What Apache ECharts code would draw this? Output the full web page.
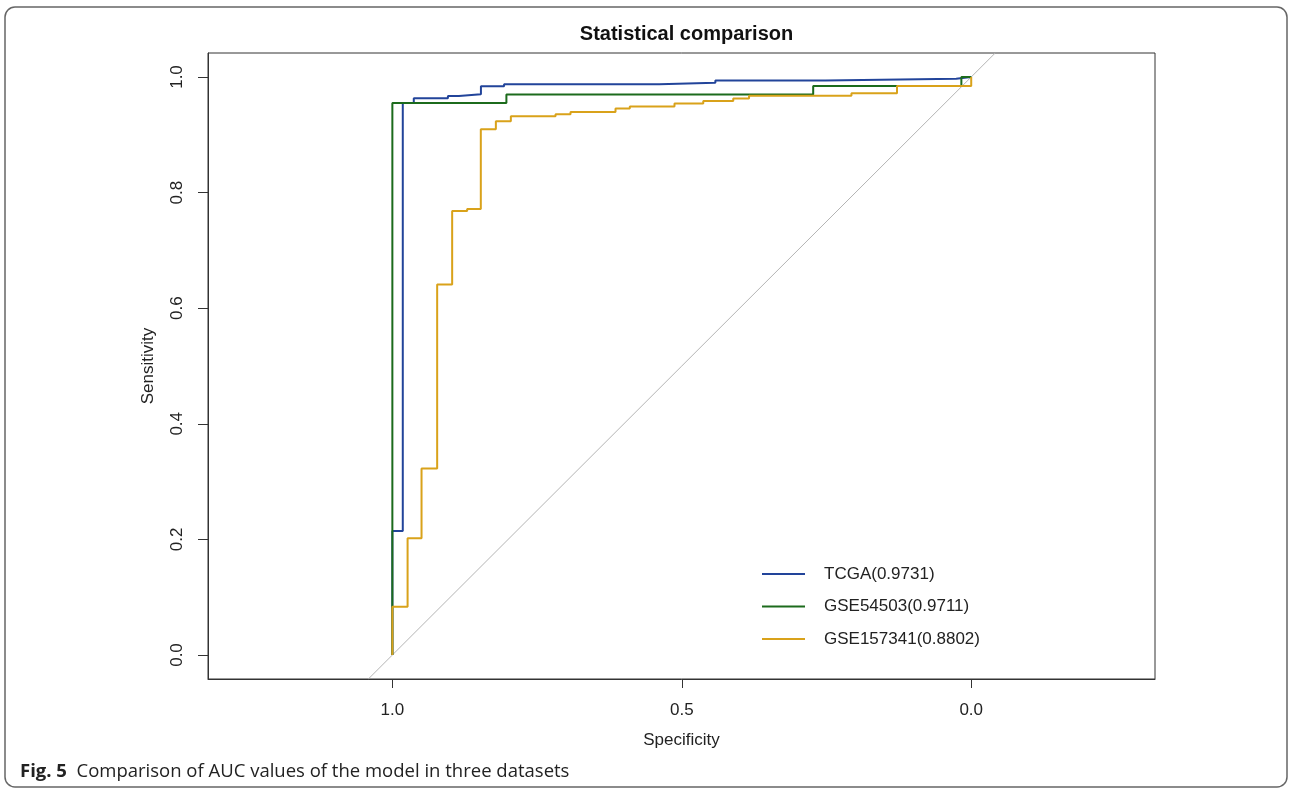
<!DOCTYPE html>
<html>
<head>
<meta charset="utf-8">
<script src="https://cdn.jsdelivr.net/npm/echarts@6/dist/echarts.min.js"></script>
<style>html,body{margin:0;padding:0;background:#fff;}#chart{width:1290px;height:790px;}</style>
</head>
<body>
<div id="chart"></div>
<script>
// Tick labels
var xTicks = [1.0, 0.5, 0.0];
var yTicks = [0.0, 0.2, 0.4, 0.6, 0.8, 1.0];
var seriesNames = ['TCGA(0.9731)', 'GSE54503(0.9711)', 'GSE157341(0.8802)'];
// ROC curves: [specificity, sensitivity] corner points
var tcga = [[1,0],[1,0.2145],[0.982,0.2145],[0.982,0.955],[0.963,0.955],[0.963,0.963],[0.904,0.963],[0.904,0.967],[0.885,0.967],[0.885,0.970],[0.847,0.970],[0.847,0.984],[0.807,0.984],[0.807,0.9875],[0.539,0.9875],[0.539,0.990],[0.442,0.990],[0.442,0.994],[0.252,0.994],[0.252,0.997],[0.026,0.997],[0.026,1.0],[0,1.0]];
var gse54503 = [[1,0],[1,0.955],[0.803,0.955],[0.803,0.9695],[0.273,0.9695],[0.273,0.9844],[0.017,0.9844],[0.017,1.0],[0,1.0]];
var gse157341 = [[1,0],[1,0.0837],[0.9737,0.0837],[0.9737,0.2018],[0.9496,0.2018],[0.9496,0.3228],[0.9226,0.3228],[0.9226,0.641],[0.8967,0.641],[0.8967,0.7683],[0.8708,0.7683],[0.8708,0.7718],[0.8472,0.7718],[0.8472,0.9096],[0.8212,0.9096],[0.8212,0.9234],[0.7953,0.9234],[0.7953,0.932],[0.7181,0.932],[0.7181,0.9355],[0.6922,0.9355],[0.6922,0.9395],[0.6145,0.9395],[0.6145,0.9453],[0.5898,0.9453],[0.5898,0.9488],[0.5126,0.9488],[0.5126,0.954],[0.4629,0.954],[0.4629,0.9585],[0.4111,0.9585],[0.4111,0.9627],[0.3838,0.9627],[0.3838,0.9675],[0.2069,0.9675],[0.2069,0.9718],[0.1282,0.9718],[0.1282,0.9844],[0.0,0.9844],[0,1.0]];
// Chance diagonal (sensitivity = 1 - specificity)
var diagonal = [[1.0415,-0.0415],[-0.0415,1.0415]];

var chart = echarts.init(document.getElementById('chart'), null, {renderer:'canvas'});
var font = 'Liberation Sans, Arial, sans-serif';
var option = {
  animation: false,
  backgroundColor: '#fff',
  title: {
    text: 'Statistical comparison',
    left: 681.5, top: 19, textAlign: 'center',
    textStyle: {fontFamily: font, fontSize: 20, fontWeight: 'bold', color: '#111'}
  },
  grid: {left: 208, right: 135, top: 53, bottom: 111, show: true, borderColor: '#333', borderWidth: 1, backgroundColor: 'transparent'},
  legend: {
    data: seriesNames,
    orient: 'vertical', left: 757, top: 559,
    itemWidth: 43, itemHeight: 2, itemGap: 12.5,
    icon: 'rect',
    textStyle: {fontFamily: font, fontSize: 17, color: '#222', lineHeight: 20, padding: [0,0,0,14]}
  },
  xAxis: {
    type: 'value', inverse: true, min: -0.3175, max: 1.3185,
    name: 'Specificity', nameLocation: 'middle', nameGap: 53,
    nameTextStyle: {fontFamily: font, fontSize: 17, color: '#222'},
    axisLine: {show: true, onZero: false, lineStyle: {color: '#333'}},
    axisTick: {show: true, length: 9, customValues: xTicks, lineStyle: {color: '#333'}},
    axisLabel: {customValues: xTicks, margin: 23, fontFamily: font, fontSize: 17, color: '#222', formatter: function(v){return v.toFixed(1);}},
    splitLine: {show: false}
  },
  yAxis: {
    type: 'value', min: -0.0415, max: 1.0415,
    name: 'Sensitivity', nameLocation: 'middle', nameGap: 51,
    nameTextStyle: {fontFamily: font, fontSize: 17, color: '#222'},
    axisLine: {show: true, onZero: false, lineStyle: {color: '#333'}},
    axisTick: {show: true, length: 10, customValues: yTicks, lineStyle: {color: '#333'}},
    axisLabel: {customValues: yTicks, rotate: 90, margin: 22, fontFamily: font, fontSize: 17, color: '#222', formatter: function(v){return v.toFixed(1);}},
    splitLine: {show: false}
  },
  series: [
    {type: 'line', name: 'diag', data: diagonal, symbol: 'none', silent: true, clip: true, lineStyle: {color: '#b4b4b4', width: 1}},
    {type: 'line', name: seriesNames[0], data: tcga, symbol: 'none', clip: true, color: '#22449a', lineStyle: {color: '#22449a', width: 2}},
    {type: 'line', name: seriesNames[1], data: gse54503, symbol: 'none', clip: true, color: '#1c6b1c', lineStyle: {color: '#1c6b1c', width: 2}},
    {type: 'line', name: seriesNames[2], data: gse157341, symbol: 'none', clip: true, color: '#d9a21a', lineStyle: {color: '#d9a21a', width: 2}}
  ],
  graphic: [
    {type: 'rect', shape: {x: 5, y: 7, width: 1282, height: 780, r: 10}, style: {fill: 'none', stroke: '#666', lineWidth: 1.5}, silent: true, z: -1},
    {type: 'text', left: 20, top: 762, style: {
      text: '{b|Fig. 5}  Comparison of AUC values of the model in three datasets',
      fontFamily: 'Open Sans, Noto Sans, sans-serif', fontSize: 18.5, fill: '#222',
      rich: {b: {fontFamily: 'Open Sans, Noto Sans, sans-serif', fontSize: 18.5, fontWeight: 'bold', fill: '#222'}}
    }}
  ]
};
chart.setOption(option);
</script>
</body>
</html>
